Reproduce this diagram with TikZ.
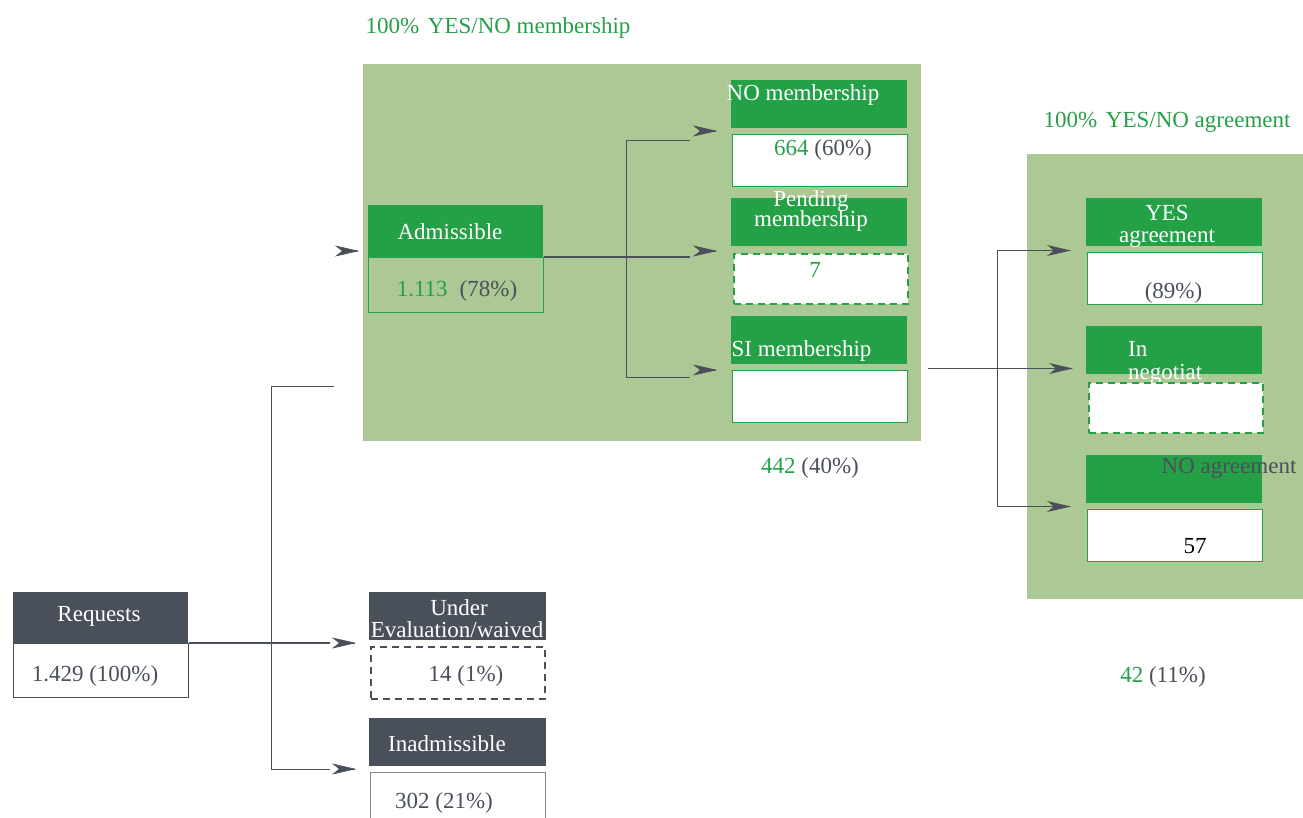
\documentclass[tikz,border=0pt]{standalone}
\usepackage{fontspec}
\setmainfont{Liberation Serif}
\usetikzlibrary{arrows.meta,calc}
\definecolor{bglight}{RGB}{171,200,149}
\definecolor{dkgreen}{RGB}{36,160,71}
\definecolor{slate}{RGB}{74,80,89}
\begin{document}
\begin{tikzpicture}[x=1pt,y=-1pt,
  font=\fontsize{23}{25}\selectfont,
  panel/.style={fill=bglight,draw=none,anchor=north west,inner sep=0pt},
  ghdr/.style={fill=dkgreen,draw=none,anchor=north west,inner sep=0pt,minimum width=176pt,minimum height=48pt},
  shdr/.style={fill=slate,draw=none,anchor=north west,inner sep=0pt,minimum width=176pt,minimum height=50pt},
  gval/.style={fill=white,draw=dkgreen,line width=1.2pt,anchor=north west,inner sep=0pt,minimum width=175pt,minimum height=52pt},
  gdash/.style={gval,dash pattern=on 7pt off 5pt,line width=1.6pt},
  sval/.style={fill=white,draw=slate,line width=1pt,anchor=north west,inner sep=0pt,minimum width=175pt,minimum height=54pt},
  wt/.style={text=white,inner sep=0pt,yshift=-2pt},
  gt/.style={text=slate,inner sep=0pt,yshift=-2pt},
  grt/.style={text=dkgreen,inner sep=0pt,yshift=-2pt},
  conn/.style={draw=slate,line width=1.3pt},
  tip/.style={draw=slate,fill=slate,line width=0.6pt,-{Stealth[length=24pt,width=11pt,inset=7pt]}}
]
\useasboundingbox (0,0) rectangle (1303,818);

% ---------- titles ----------
\node[grt] (t1) at (498,26) {100\%\hspace{3pt} YES/NO membership};
\node[grt] (t2) at (1167,120) {100\%\hspace{3pt} YES/NO agreement};

% ---------- panels ----------
\node[panel,minimum width=558pt,minimum height=377pt] (p1) at (363,64) {};
\node[panel,minimum width=276pt,minimum height=445pt] (p2) at (1027,154) {};

% ---------- Admissible ----------
\node[fill=dkgreen,anchor=north west,inner sep=0pt,minimum width=175pt,minimum height=52pt] (adm) at (368,205) {};
\node[draw=dkgreen,line width=1.2pt,anchor=north west,inner sep=0pt,minimum width=175pt,minimum height=55pt] (admv) at (368,257) {};
\node[wt] (admt) at (450,230) {Admissible};
\node[gt] (admn) at (457,289) {{\color{dkgreen}1.113}\hspace{12pt}(78\%)};

% ---------- membership column ----------
\node[ghdr] (nom) at (731,80) {};
\node[gval] (nomv) at (732,134) {};
\node[wt] (nomt) at (803,93) {NO membership};
\node[gt] (nomn) at (823,148) {{\color{dkgreen}664} (60\%)};

\node[ghdr] (pen) at (731,198) {};
\node[wt] (pent1) at (811,199) {Pending};
\node[wt] (pent2) at (811,219) {membership};
\node[gdash,minimum width=174pt,minimum height=50pt] (penv) at (733,253) {};
\node[grt] (penn) at (815,268) {7};

\node[ghdr] (sim) at (731,316) {};
\node[gval] (simv) at (732,370) {};
\node[wt] (simt) at (801.5,349) {SI membership};

\node[gt] (p1n) at (810,466) {{\color{dkgreen}442} (40\%)};

% ---------- agreement column ----------
\node[ghdr] (yes) at (1086,198) {};
\node[wt] (yest1) at (1167,211) {YES};
\node[wt] (yest2) at (1167,237) {agreement};
\node[gval] (yesv) at (1087,252) {};
\node[gt] (yesn) at (1173.5,291) {(89\%)};

\node[ghdr] (neg) at (1086,326) {};
\node[wt,anchor=west] (negt1) at (1128,347) {In};
\node[wt,anchor=west] (negt2) at (1128,372) {negotiat};
\node[gdash,minimum width=174pt,minimum height=50pt] (negv) at (1088,382) {};

\node[ghdr] (noa) at (1086,455) {};
\node[gt] (noat) at (1229,466) {NO agreement};
\node[gval] (noav) at (1087,509) {};
\node[inner sep=0pt,yshift=-2pt] (noan) at (1195,544) {57};

\node[gt] (p2n) at (1163,675) {{\color{dkgreen}42} (11\%)};

% ---------- left column ----------
\node[shdr,minimum width=175pt,minimum height=51pt] (req) at (13,592) {};
\node[wt] (reqt) at (99,614) {Requests};
\node[sval,minimum height=54pt] (reqv) at (13,643) {};
\node[gt] (reqn) at (95,674) {1.429 (100\%)};

\node[shdr,minimum width=177pt,minimum height=48pt] (und) at (369,592) {};
\node[wt] (undt1) at (459,606) {Under};
\node[wt] (undt2) at (457,628) {Evaluation/waived};
\node[sval,fill=white,dash pattern=on 7pt off 5pt,line width=1.6pt,minimum width=174pt,minimum height=52pt] (undv) at (370,646) {};
\node[gt] (undn) at (466,674) {14 (1\%)};

\node[shdr,minimum width=177pt,minimum height=48pt] (ina) at (369,718) {};
\node[wt] (inat) at (447,742) {Inadmissible};
\node[sval,draw=slate!70,minimum height=60pt] (inav) at (370,772) {};
\node[gt] (inan) at (444,801) {302 (21\%)};

% ---------- connectors: requests ----------
\coordinate (rj) at (271.5,643);
\coordinate (rtop) at (334,386.5);
\coordinate (rmid) at (330,643);
\coordinate (rbot) at (330,769.5);
\draw[conn] (reqv.north east) -- (rmid);
\draw[conn] (rtop) -- (rtop -| rj) -- (rj) -- (rj |- rbot) -- (rbot);
\coordinate (tipU) at (356,643);
\coordinate (tipI) at (356,769);
\coordinate (tipA) at (359,251);
\draw[tip] ($(tipU)-(1,0)$) -- (tipU);
\draw[tip] ($(tipI)-(1,0)$) -- (tipI);
\draw[tip] ($(tipA)-(1,0)$) -- (tipA);

% ---------- connectors: admissible ----------
\coordinate (aj) at (626.5,257);
\coordinate (atop) at (690,140.5);
\coordinate (amid) at (690,257);
\coordinate (abot) at (690,377.5);
\draw[conn] (admv.north east) -- (amid);
\draw[conn] (atop) -- (atop -| aj) -- (aj) -- (aj |- abot) -- (abot);
\coordinate (tipN) at (717,131);
\coordinate (tipP) at (717,251);
\coordinate (tipS) at (717,370);
\draw[tip] ($(tipN)-(1,0)$) -- (tipN);
\draw[tip] ($(tipP)-(1,0)$) -- (tipP);
\draw[tip] ($(tipS)-(1,0)$) -- (tipS);

% ---------- connectors: agreement ----------
\coordinate (gs) at (928,368.5);
\coordinate (gj) at (997.5,368.5);
\coordinate (gtop) at (1071,250.5);
\coordinate (gmid) at (1073,368.5);
\coordinate (gbot) at (1071,506.5);
\draw[conn,-{Stealth[length=24pt,width=11pt,inset=7pt]}] (gs) -- (gmid);
\draw[conn,-{Stealth[length=24pt,width=11pt,inset=7pt]}] (gj) |- (gtop);
\draw[conn,-{Stealth[length=24pt,width=11pt,inset=7pt]}] (gj) |- (gbot);
\end{tikzpicture}
\end{document}
